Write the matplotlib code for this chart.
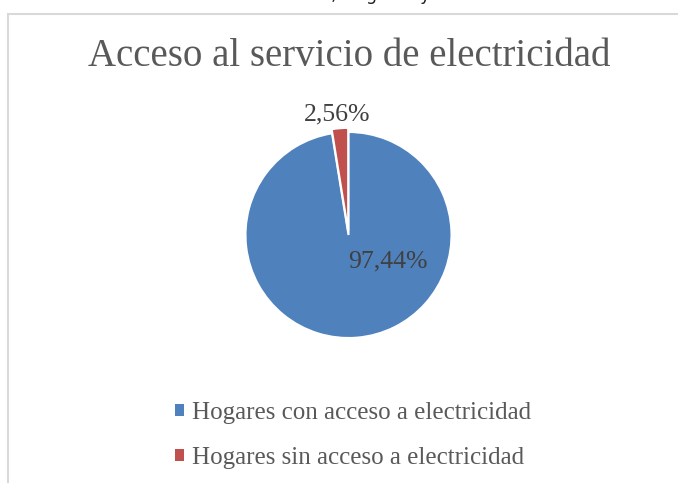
import matplotlib
matplotlib.use("Agg")
import matplotlib.pyplot as plt
from matplotlib.patches import Patch, Rectangle

categories = ["Hogares con acceso a electricidad", "Hogares sin acceso a electricidad"]
values = [97.44, 2.56]
colors = ["#4F81BD", "#C0504D"]
title = "Acceso al servicio de electricidad"
caption = "Fuente: Censo Nacional de Población, Hogares y Vivienda 2010"

W, H = 678, 483
fig = plt.figure(figsize=(W / 100, H / 100), dpi=100)
fig.patch.set_facecolor("white")

serif = "Liberation Serif"

# chart frame (partially cropped)
fig.patches.append(Rectangle((8 / W, -0.2), 2, (H - 14) / H + 0.2, transform=fig.transFigure,
                             fill=False, edgecolor="#D9D9D9", linewidth=1.5))

# caption above the chart, cropped by the top edge as in the source
fig.text(9 / W, 1 - 0.5 / H, caption, family="DejaVu Sans", fontsize=12.5,
         color="#222222", ha="left", va="baseline")

# pie axes: center (348.5, 235) px, radius 103 px
half = 150
cx, cy = 348.5, H - 235
ax = fig.add_axes([(cx - half) / W, (cy - half) / H, 2 * half / W, 2 * half / H])
wedges, texts, autotexts = ax.pie(
    values, colors=colors, startangle=90, counterclock=False,
    explode=[0, 0.04],
    autopct=lambda p: f"{p:.2f}".replace(".", ",") + "%",
    wedgeprops=dict(edgecolor="white", linewidth=1.5),
    textprops=dict(family=serif, fontsize=18.5, color="#404040"),
)
lim = half / 103
ax.set_xlim(-lim, lim)
ax.set_ylim(-lim, lim)
ax.set_aspect("equal")
ax.axis("off")

# label positions (Excel best fit)
autotexts[0].set_position((0.38, -0.26))
autotexts[0].set_ha("center"); autotexts[0].set_va("center")
autotexts[1].set_position((-0.11, 1.17))
autotexts[1].set_ha("center"); autotexts[1].set_va("center")

fig.text(349 / W, 1 - 57 / H, title, family=serif, fontsize=28, color="#595959",
         ha="center", va="center")

handles = [Patch(facecolor=c, edgecolor="none") for c in colors]
fig.legend(handles, categories, loc="upper left",
           bbox_to_anchor=(175 / W, 1 - 402 / H), frameon=False,
           prop=dict(family=serif, size=18), labelcolor="#595959",
           handlelength=0.36, handleheight=0.36, handletextpad=0.32,
           labelspacing=0.92, borderpad=0, borderaxespad=0)

fig.savefig("out.png", dpi=100, facecolor="white")
